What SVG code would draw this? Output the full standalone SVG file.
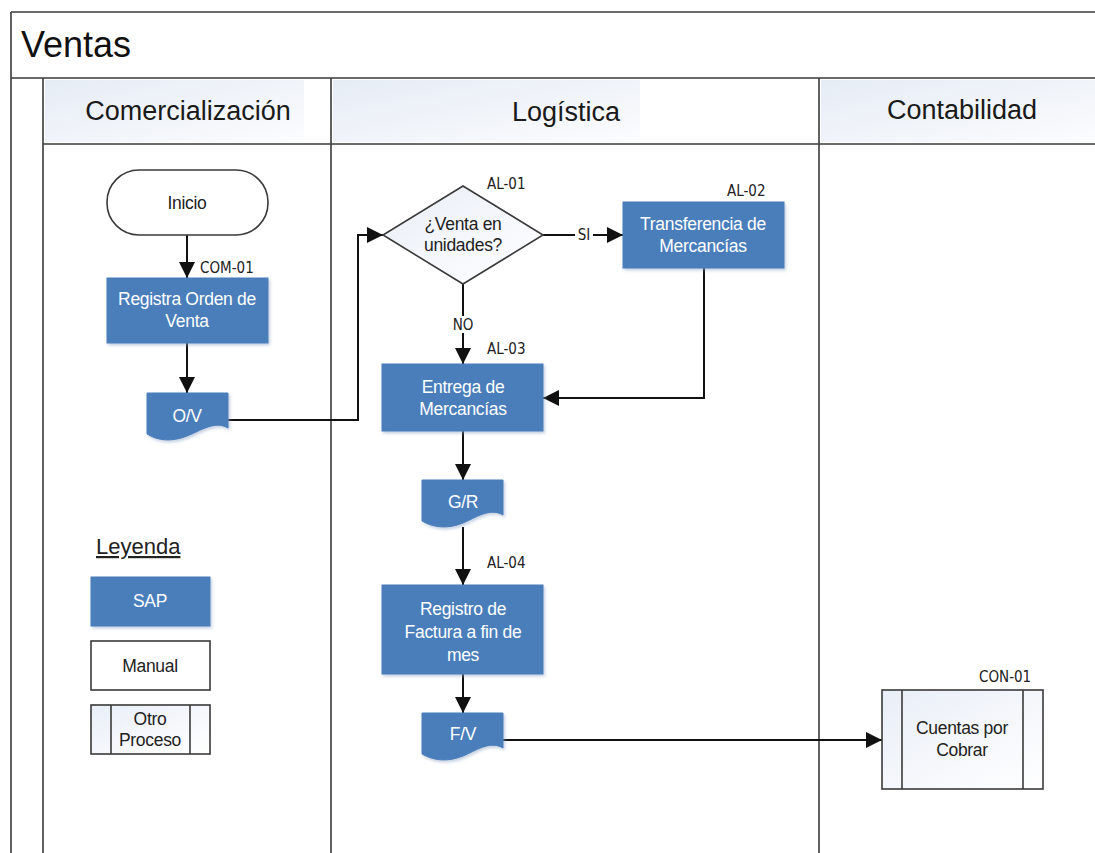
<svg xmlns="http://www.w3.org/2000/svg" width="1095" height="853" viewBox="0 0 1095 853">
  <style>
    .frame { fill: none; stroke: #3a3a3a; stroke-width: 1.6; }
    .sap { fill: #4a7ebb; stroke: #4a7ebb; stroke-width: 1; }
    .sapTxt { font-family: "Liberation Sans", Arial, sans-serif; font-size: 17.5px; fill: #ffffff; text-anchor: middle; letter-spacing: -0.3px; }
    .txt { font-family: "Liberation Sans", Arial, sans-serif; font-size: 17.5px; fill: #222222; text-anchor: middle; letter-spacing: -0.3px; }
    .code { font-family: "DejaVu Sans Condensed", "Liberation Sans", sans-serif; font-size: 15px; fill: #222222; }
    .lane { font-family: "Liberation Sans", Arial, sans-serif; font-size: 27px; fill: #1a1a1a; text-anchor: middle; }
    .wire { fill: none; stroke: #111111; stroke-width: 2; }
    .outline { fill: #ffffff; stroke: #3a3a3a; stroke-width: 1.6; }
  </style>
  <defs>
    <linearGradient id="hdr" x1="0" y1="0" x2="1" y2="1">
      <stop offset="0" stop-color="#e6ecf5"/>
      <stop offset="1" stop-color="#fbfcfe"/>
    </linearGradient>
    <linearGradient id="soft" x1="0" y1="0" x2="1" y2="1">
      <stop offset="0" stop-color="#e9eef7"/>
      <stop offset="1" stop-color="#ffffff"/>
    </linearGradient>
    <filter id="shadow" x="-10%" y="-10%" width="130%" height="130%">
      <feDropShadow dx="1.5" dy="2" stdDeviation="1.5" flood-color="#8aa3c4" flood-opacity="0.5"/>
    </filter>
    <marker id="arrowL" viewBox="0 0 10 10" refX="10" refY="5" markerWidth="8" markerHeight="8" orient="auto">
      <path d="M0,0 L10,5 L0,10 Z" fill="#111111"/>
    </marker>
  </defs>

  <rect width="1095" height="853" fill="#ffffff"/>

  <!-- Pool and lanes -->
  <g id="pool">
    <rect x="45" y="80" width="259" height="62" fill="url(#hdr)"/>
    <rect x="333" y="80" width="307" height="62" fill="url(#hdr)"/>
    <rect x="821" y="80" width="274" height="62" fill="url(#hdr)"/>
    <line class="frame" x1="11" y1="12" x2="1095" y2="12"/>
    <line class="frame" x1="11" y1="12" x2="11" y2="853"/>
    <line class="frame" x1="11" y1="78" x2="1095" y2="78"/>
    <line class="frame" x1="43" y1="78" x2="43" y2="853"/>
    <line class="frame" x1="43" y1="144" x2="1095" y2="144"/>
    <line class="frame" x1="331" y1="78" x2="331" y2="853"/>
    <line class="frame" x1="819" y1="78" x2="819" y2="853"/>
    <text x="21" y="57" font-family="Liberation Sans, Arial, sans-serif" font-size="36" fill="#111111">Ventas</text>
    <text class="lane" x="188" y="120">Comercialización</text>
    <text class="lane" x="566" y="121">Logística</text>
    <text class="lane" x="962" y="119">Contabilidad</text>
  </g>

  <!-- Connectors -->
  <g id="connectors">
    <line class="wire" x1="187" y1="235" x2="187" y2="278" marker-end="url(#arrowL)"/>
    <line class="wire" x1="187" y1="343" x2="187" y2="393" marker-end="url(#arrowL)"/>
    <polyline class="wire" points="228,420 358,420 358,235 383,235" marker-end="url(#arrowL)"/>
    <line class="wire" x1="543" y1="235" x2="623" y2="235" marker-end="url(#arrowL)"/>
    <line class="wire" x1="463" y1="284" x2="463" y2="364" marker-end="url(#arrowL)"/>
    <polyline class="wire" points="704,268 704,398 543,398" marker-end="url(#arrowL)"/>
    <line class="wire" x1="463" y1="431" x2="463" y2="480" marker-end="url(#arrowL)"/>
    <line class="wire" x1="463" y1="527" x2="463" y2="585" marker-end="url(#arrowL)"/>
    <line class="wire" x1="463" y1="674" x2="463" y2="713" marker-end="url(#arrowL)"/>
    <line class="wire" x1="503" y1="740" x2="882" y2="740" marker-end="url(#arrowL)"/>
    <rect x="575" y="228" width="18" height="15" fill="#ffffff"/>
    <text class="code" x="584" y="240" text-anchor="middle">SI</text>
    <rect x="450" y="316" width="26" height="17" fill="#ffffff"/>
    <text class="code" x="463" y="330" text-anchor="middle">NO</text>
  </g>

  <!-- Comercialización lane -->
  <g id="inicio">
    <rect class="outline" x="107" y="170" width="161" height="65" rx="32" ry="32"/>
    <text class="txt" x="187" y="209">Inicio</text>
  </g>
  <g id="com-01">
    <text class="code" x="200" y="273">COM-01</text>
    <rect class="sap" x="107" y="278" width="161" height="65" filter="url(#shadow)"/>
    <text class="sapTxt" x="187" y="305">Registra Orden de</text>
    <text class="sapTxt" x="187" y="327">Venta</text>
  </g>
  <g id="doc-ov">
    <path class="sap" d="M147,393 H228 V428 C215,420 200,431 187,436 C172,442 158,441 147,434 Z" filter="url(#shadow)"/>
    <text class="sapTxt" x="187" y="422">O/V</text>
  </g>

  <!-- Logística lane -->
  <g id="al-01">
    <text class="code" x="487" y="189">AL-01</text>
    <polygon points="463,186 543,235 463,284 383,235" fill="url(#soft)" stroke="#3a3a3a" stroke-width="1.6"/>
    <text class="txt" x="463" y="230" font-size="16">¿Venta en</text>
    <text class="txt" x="463" y="251" font-size="16">unidades?</text>
  </g>
  <g id="al-02">
    <text class="code" x="727" y="196">AL-02</text>
    <rect class="sap" x="623" y="202" width="161" height="66" filter="url(#shadow)"/>
    <text class="sapTxt" x="703" y="230">Transferencia de</text>
    <text class="sapTxt" x="703" y="252">Mercancías</text>
  </g>
  <g id="al-03">
    <text class="code" x="487" y="354">AL-03</text>
    <rect class="sap" x="382" y="364" width="161" height="67" filter="url(#shadow)"/>
    <text class="sapTxt" x="463" y="393">Entrega de</text>
    <text class="sapTxt" x="463" y="415">Mercancías</text>
  </g>
  <g id="doc-gr">
    <path class="sap" d="M422,480 H503 V515 C490,507 475,518 463,523 C448,529 434,528 422,521 Z" filter="url(#shadow)"/>
    <text class="sapTxt" x="463" y="508">G/R</text>
  </g>
  <g id="al-04">
    <text class="code" x="487" y="568">AL-04</text>
    <rect class="sap" x="382" y="585" width="161" height="89" filter="url(#shadow)"/>
    <text class="sapTxt" x="463" y="615">Registro de</text>
    <text class="sapTxt" x="463" y="638">Factura a fin de</text>
    <text class="sapTxt" x="463" y="661">mes</text>
  </g>
  <g id="doc-fv">
    <path class="sap" d="M422,713 H503 V748 C490,740 475,751 463,756 C448,762 434,761 422,754 Z" filter="url(#shadow)"/>
    <text class="sapTxt" x="463" y="740">F/V</text>
  </g>

  <!-- Contabilidad lane -->
  <g id="con-01">
    <text class="code" x="979" y="682">CON-01</text>
    <rect x="882" y="690" width="161" height="99" fill="url(#soft)" stroke="#3a3a3a" stroke-width="1.6"/>
    <line x1="902" y1="690" x2="902" y2="789" stroke="#3a3a3a" stroke-width="1.6"/>
    <line x1="1023" y1="690" x2="1023" y2="789" stroke="#3a3a3a" stroke-width="1.6"/>
    <text class="txt" x="962" y="734">Cuentas por</text>
    <text class="txt" x="962" y="756">Cobrar</text>
  </g>

  <!-- Legend -->
  <g id="legend">
    <text x="96" y="554" font-family="Liberation Sans, Arial, sans-serif" font-size="22" fill="#222222" text-decoration="underline">Leyenda</text>
    <rect class="sap" x="91" y="577" width="119" height="49" filter="url(#shadow)"/>
    <text class="sapTxt" x="150" y="607">SAP</text>
    <rect class="outline" x="91" y="641" width="119" height="49"/>
    <text class="txt" x="150" y="672">Manual</text>
    <rect x="91" y="705" width="119" height="49" fill="url(#soft)" stroke="#3a3a3a" stroke-width="1.6"/>
    <line x1="111" y1="705" x2="111" y2="754" stroke="#3a3a3a" stroke-width="1.6"/>
    <line x1="190" y1="705" x2="190" y2="754" stroke="#3a3a3a" stroke-width="1.6"/>
    <text class="txt" x="150" y="725" font-size="16.5">Otro</text>
    <text class="txt" x="150" y="746" font-size="16.5">Proceso</text>
  </g>
</svg>
